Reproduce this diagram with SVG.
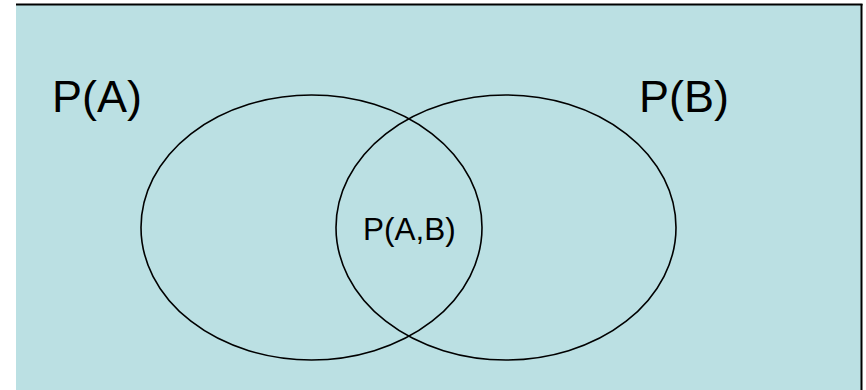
<svg xmlns="http://www.w3.org/2000/svg" width="866" height="390" viewBox="0 0 866 390">
  <style>
    .set { fill: none; stroke: #000; stroke-width: 1.6; }
    .lbl { font-family: "Liberation Sans", Arial, sans-serif; fill: #000; }
  </style>
  <rect x="16" y="4" width="846" height="390" fill="#BBE0E3"/>
  <line x1="16" y1="4.5" x2="862.5" y2="4.5" stroke="#000" stroke-width="2"/>
  <line x1="861.5" y1="4" x2="861.5" y2="390" stroke="#000" stroke-width="2"/>
  <g id="setA">
    <ellipse class="set" cx="311.5" cy="227.5" rx="170.5" ry="132.5"/>
    <text class="lbl" x="52" y="112" font-size="45">P(A)</text>
  </g>
  <g id="setB">
    <ellipse class="set" cx="506" cy="227.5" rx="170" ry="132.5"/>
    <text class="lbl" x="639" y="112" font-size="45">P(B)</text>
  </g>
  <g id="intersection">
    <text class="lbl" x="363" y="239.5" font-size="31.5">P(A,B)</text>
  </g>
  <g id="connectors"/>
</svg>
